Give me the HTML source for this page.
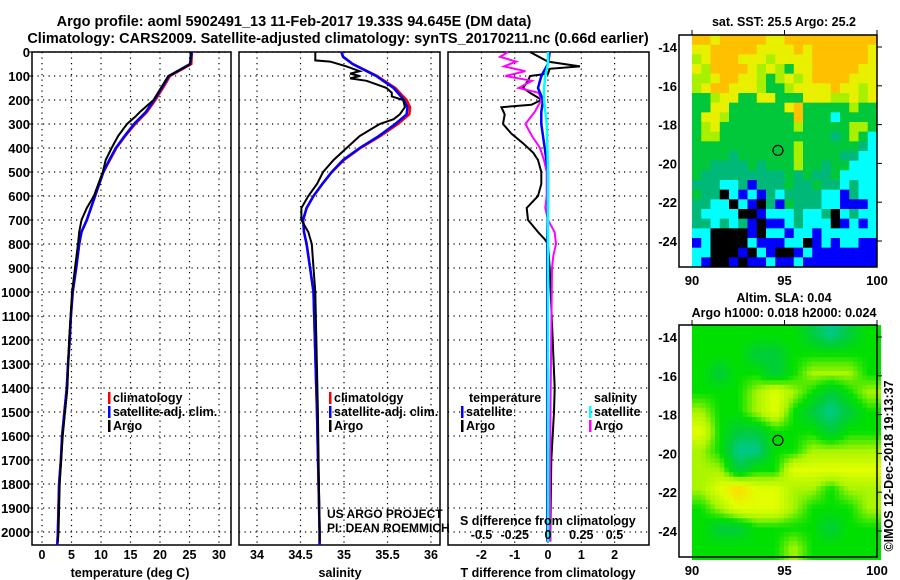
<!DOCTYPE html>
<html><head><meta charset="utf-8">
<style>
html,body{margin:0;padding:0;background:#fff;}
svg{display:block;}
text{font-family:"Liberation Sans",sans-serif;font-weight:bold;fill:#000;}
</style></head>
<body>
<svg id="chart" width="900" height="580" viewBox="0 0 900 580" xmlns="http://www.w3.org/2000/svg">
<text x="294" y="26" font-size="14.5" text-anchor="middle">Argo profile: aoml 5902491_13 11-Feb-2017 19.33S 94.645E (DM data)</text>
<text x="338" y="43" font-size="14.5" text-anchor="middle">Climatology: CARS2009. Satellite-adjusted climatology: synTS_20170211.nc (0.66d earlier)</text>
<g id="plots"></g>
</svg>
<script>
// ---------- data ----------
const tDepth   = [0,50,100,150,200,250,300,350,400,450,500,600,700,750,800,900,1000,1100,1200,1300,1400,1500,1600,1700,1800,1900,2000,2055];
const tClim    = [25.4,25.3,21.7,20.5,19.2,17.8,15.8,14.1,12.6,11.5,10.4,9.0,7.6,6.7,6.3,5.8,5.2,4.9,4.7,4.4,4.2,3.8,3.4,3.2,2.9,2.8,2.7,2.6];
const tSat     = [25.4,25.1,21.5,20.3,19.0,17.6,15.6,14.0,12.5,11.4,10.4,9.0,7.6,6.7,6.3,5.8,5.2,4.9,4.7,4.4,4.2,3.8,3.4,3.2,2.9,2.8,2.7,2.6];
const argoTDepth = [0,50,60,100,200,250,270,300,350,400,450,500,600,650,700,750,800,900,1000,1200,1400,1600,1800,2000,2040];
const argoT      = [25.2,25.1,24.5,21.4,18.9,16.6,15.8,14.4,12.9,11.8,10.8,10.3,8.8,7.6,6.7,6.3,6.1,5.6,5.1,4.6,4.3,3.5,3.0,2.8,2.7];

const sDepth = [0,20,50,100,150,200,230,260,300,350,400,450,500,550,600,650,700,750,800,900,1000,1500,2000,2055];
const sClim  = [34.97,34.99,35.10,35.38,35.59,35.72,35.76,35.75,35.62,35.42,35.19,35.00,34.86,34.75,34.65,34.57,34.53,34.54,34.57,34.61,34.65,34.69,34.72,34.72];
const sSat   = [34.97,34.99,35.10,35.37,35.57,35.69,35.73,35.72,35.59,35.40,35.18,34.99,34.86,34.75,34.65,34.57,34.53,34.54,34.57,34.61,34.65,34.69,34.72,34.72];
const argoSDepth = [0,35,40,60,80,90,100,110,120,150,170,185,200,230,260,280,300,350,400,450,500,550,600,650,700,750,800,900,1000,1500,2000,2040];
const argoS      = [34.67,34.67,34.84,35.03,35.18,35.07,35.18,35.07,35.26,35.49,35.55,35.55,35.68,35.70,35.64,35.57,35.41,35.18,35.03,34.88,34.76,34.69,34.59,34.51,34.51,34.59,34.63,34.65,34.67,34.70,34.72,34.72];

const dTDepth = [0,40,60,70,90,100,120,150,170,190,200,220,230,260,300,340,380,420,450,500,550,600,650,700,750,780,800,900,1400,1500,1700,2000,2040];
const dTArgo  = [-0.54,0,0.96,0.05,0,-0.54,-0.6,-0.75,-0.54,-0.3,-0.2,-0.5,-1.4,-1.3,-1.35,-1.1,-0.75,-0.44,-0.3,-0.2,-0.2,-0.3,-0.64,-0.6,-0.3,-0.1,0,0.05,0.2,0.18,0.1,0.07,0.07];
const dTSatDepth = [0,50,100,150,200,250,300,400,500,600,800,1200,2040];
const dTSat      = [0.05,0,-0.2,-0.3,-0.15,-0.2,-0.2,-0.1,0,0,-0.02,-0.02,-0.02];
const dSDepth = [0,20,40,60,80,100,120,150,170,200,220,250,300,350,400,450,500,600,650,700,750,800,850,900,1400,1800,2040];
const dSArgo  = [-0.30,-0.36,-0.24,-0.33,-0.17,-0.32,-0.12,-0.22,-0.07,-0.05,-0.07,-0.1,-0.17,-0.12,-0.06,-0.03,-0.01,-0.01,-0.02,0,0.05,0.06,0.04,0.03,0.02,0.015,0.015];
const dSSatDepth = [0,50,100,150,200,300,500,1000,2040];
const dSSat      = [0,0,-0.02,-0.03,-0.03,-0.01,0,0,0];

const depthTicks = [0,100,200,300,400,500,600,700,800,900,1000,1100,1200,1300,1400,1500,1600,1700,1800,1900,2000];
const tTicks = [0,5,10,15,20,25,30];
const sTicks = [34,34.5,35,35.5,36];
const sTickLabels = ["34","34.5","35","35.5","36"];
const dTTicks = [-2,-1,0,1,2];
const dSTicks = [-0.5,-0.25,0,0.25,0.5];
const dSTickLabels = ["-0.5","-0.25","0","0.25","0.5"];

const sstGrid = [
"OOYOOOOOYYOOOOOOOOOO","YYOOOOOYYYYOYOOOOOOY","LYOOOYYYLYYYYOOOOOOY","YLOOOOYLYLGYYOOOOOYY",
"LLYOOYYLGLYLYOOOOYYY","LYOOYYYLGGLYYYYOYYLY","GGLYYGGYYGGGYYYLLYLY","GGYYGGGGGGYOGGGGGLGG",
"GYYLGGGGGGGOGGGCGGGG","GLYGGGGGGGGLGGGGGLLG","GLLGGGGGGGGGGGGTGLGC","GGGGGGGGGGGLGGGGGGTC",
"GGGGTGGGGGGLGGGGTTCC","GGTTTTGTGGGLGGTGGCCC","GTTTTTTTTTGTGTTGCCCC","TTTCCTBTTTGTTGTTCTCC",
"GTTKCBCBTCTTTTCCBTCC","TTCCKCBKTBGTTTCCBBBC","TCCCCKKBCCCTCCTKCTCC","TTCTCTBKBBCTCCCKBCBC",
"CCKKKKBKCCBCCBCCCCCC","BCKKKKCBBBCCKBCBCCBB","CCKKKBKCBKKBCBBBBBBB","CBKKBKBBCBBCBBBBBBBB"];
const slaGrid = [
[2,2,2,2,2,2,1,0,1,2],[2,2,2,1,1,2,2,2,2,2],[2,1,2,2,1,2,3,3,3,2],[2,2,2,3,4,3,2,1,2,3],
[3,2,2,3,4,2,1,0,1,2],[4,2,1,1,2,2,2,1,2,2],[3,2,0,0,2,2,3,3,3,3],[3,3,1,2,2,4,4,4,4,4],
[3,4,5,4,4,3,3,2,3,3],[2,3,4,4,4,3,2,2,2,3],[2,1,1,2,2,2,2,1,2,2],[2,2,2,2,2,3,2,2,2,2]];
const latTicks = [-14,-16,-18,-20,-22,-24];
const lonTicks = [90,95,100];
const argoLon = 94.645, argoLat = -19.33;

// ---------- drawing ----------
const NS="http://www.w3.org/2000/svg";
const root=document.getElementById('plots');
function el(tag,attrs,parent,txt){const e=document.createElementNS(NS,tag);for(const k in attrs)e.setAttribute(k,attrs[k]);if(txt!==undefined)e.textContent=txt;(parent||root).appendChild(e);return e;}

const Y0=52, YB=545;
const yD = d => Y0 + d*0.24;
const xT = v => 42 + v*5.9;
const xS = v => 257 + (v-34)*87;
const xDT = v => 548 + v*33.3;
const xDS = v => 548 + v*133;

function panel(name,x0,x1,gridXs){
  const g=el('g',{});
  
  
  gridXs.forEach(x=>{const l=el('line',{x1:x,x2:x,y1:Y0,y2:YB,stroke:'#000','stroke-width':1.2,'stroke-dasharray':'1.2 4.3'},g);});
  depthTicks.forEach(d=>{const l=el('line',{x1:x0,x2:x1,y1:yD(d),y2:yD(d),stroke:'#000','stroke-width':1.2,'stroke-dasharray':'1.2 4.3'},g);});
  const r=el('rect',{x:x0,y:Y0,width:x1-x0,height:YB-Y0,fill:'none',stroke:'#000','stroke-width':1.5},g);
  
  return g;
}
function line(g,name,ds,vs,fx,color,w){
  const pts=ds.map((d,i)=>fx(vs[i]).toFixed(1)+','+yD(d).toFixed(1)).join(' ');
  const p=el('polyline',{points:pts,fill:'none',stroke:color,'stroke-width':w||2.5,'stroke-linejoin':'miter'},g);
  
  return p;
}
function txt(g,name,x,y,s,size,anchor,extra){
  const t=el('text',Object.assign({x:x,y:y,'font-size':size||12.5,'text-anchor':anchor||'start'},extra||{}),g,s);
  return t;
}

const p1=panel('temperature-panel',32,231,tTicks.map(xT));
depthTicks.forEach(d=>{txt(p1,'depth-tick-label',30,yD(d)+5,String(d),13,'end');el('line',{x1:28,x2:32,y1:yD(d),y2:yD(d),stroke:'#000'},p1);});
tTicks.forEach((v,i)=>txt(p1,'temp-tick-label',xT(v),559,String(v),12.5,'middle'));
txt(p1,'x-axis-title-temperature',130,577,'temperature (deg C)',12.5,'middle');
line(p1,'temp-climatology-line',tDepth,tClim,xT,'#ff0000');
line(p1,'temp-satellite-line',tDepth,tSat,xT,'#0000ff');
line(p1,'temp-argo-line',argoTDepth,argoT,xT,'#000000',2);

const p2=panel('salinity-panel',239,440,sTicks.map(xS));
sTicks.forEach((v,i)=>txt(p2,'salinity-tick-label',xS(v),559,sTickLabels[i],12.5,'middle'));
txt(p2,'x-axis-title-salinity',340,577,'salinity',12.5,'middle');
line(p2,'sal-climatology-line',sDepth,sClim,xS,'#ff0000');
line(p2,'sal-satellite-line',sDepth,sSat,xS,'#0000ff');
line(p2,'sal-argo-line',argoSDepth,argoS,xS,'#000000',2);

const p3=panel('difference-panel',448,649,dTTicks.map(xDT));
dTTicks.forEach(v=>txt(p3,'tdiff-tick-label',xDT(v),559,String(v),12.5,'middle'));
txt(p3,'x-axis-title-tdiff',548,577,'T difference from climatology',12.5,'middle');
line(p3,'tdiff-argo-line',dTDepth,dTArgo,xDT,'#000000',2);
line(p3,'sdiff-argo-line',dSDepth,dSArgo,xDS,'#ff00ff',2);
line(p3,'tdiff-satellite-line',dTSatDepth,dTSat,xDT,'#0000ff',2.5);
line(p3,'sdiff-satellite-line',dSSatDepth,dSSat,xDS,'#00ffff',2.5);
txt(p3,'sdiff-axis-title',460,525,'S difference from climatology',12.5,'start');
dSTicks.forEach((v,i)=>txt(p3,'sdiff-tick-label',xDS(v),539,dSTickLabels[i],12.5,'middle'));

function legend(g,x,y,color,label){
  const r=el('rect',{x:x,y:y-10,width:2.5,height:12,fill:color},g);
  
  txt(g,'legend-entry-'+label.replace(/[^a-z]+/gi,'-').toLowerCase(),x+5,y,label,12.5);
}
legend(p1,108,402,'#ff0000','climatology');
legend(p1,108,416,'#0000ff','satellite-adj. clim.');
legend(p1,108,430,'#000','Argo');
legend(p2,329,402,'#ff0000','climatology');
legend(p2,329,416,'#0000ff','satellite-adj. clim.');
legend(p2,329,430,'#000','Argo');
txt(p3,'legend-header-temperature',469,402,'temperature',12.5);
legend(p3,461,416,'#0000ff','satellite');
legend(p3,461,430,'#000','Argo');
txt(p3,'legend-header-salinity',594,402,'salinity',12.5);
legend(p3,589,416,'#00ffff','satellite');
legend(p3,589,430,'#ff00ff','Argo');
txt(p2,'credit-us-argo',327,518,'US ARGO PROJECT',12,'start',{'font-weight':'normal'});
txt(p2,'credit-pi',327,532,'PI: DEAN ROEMMICH',12,'start',{'font-weight':'normal'});

// ---------- maps ----------
const MX0=692, MX1=877, FX0=679;
const lonX = v => MX0 + (v-90)*(MX1-MX0)/10;
function mapFrame(name){
  const g=el('g',{});
  
  return g;
}
const latY1 = v => 47 + (-14 - v)*19.4;
function drawMapAxes(g,top,bottom,latY){
  const r=el('rect',{x:FX0,y:top,width:MX1-FX0,height:bottom-top,fill:'none',stroke:'#000','stroke-width':1.5},g);
  
  latTicks.forEach(v=>{txt(g,'lat-tick-label',677,latY(v)+5,String(v),13,'end');el('line',{x1:MX1,x2:MX1+5,y1:latY(v),y2:latY(v),stroke:'#000'},g);});
  lonTicks.forEach(v=>{txt(g,'lon-tick-label',lonX(v),bottom+18,String(v),13,'middle');el('line',{x1:lonX(v),x2:lonX(v),y1:top-5,y2:top,stroke:'#000'},g);});
  const c=el('circle',{cx:lonX(argoLon),cy:latY(argoLat),r:5,fill:'none',stroke:'#000','stroke-width':1.2},g);
  
}
const sstCol={O:'#ffc000',Y:'#e8f000',L:'#a8f000',G:'#00c83a',T:'#00b878',C:'#00ffff',B:'#0000ff',K:'#000000'};
const m1=mapFrame('sst-map');
txt(m1,'sst-map-title',784,26,'sat. SST: 25.5 Argo: 25.2',12.5,'middle');
{
  const rows=sstGrid.length, cols=sstGrid[0].length, ch=(267-35)/rows, cw=(MX1-MX0)/cols;
  sstGrid.forEach((row,i)=>{for(let j=0;j<cols;j++){
    const c=el('rect',{x:(MX0+j*cw).toFixed(2),y:(35+i*ch).toFixed(2),width:(cw+0.4).toFixed(2),height:(ch+0.4).toFixed(2),fill:sstCol[row[j]]},m1);
    
  }});
}
drawMapAxes(m1,35,267,latY1);
const slaCols=[[0,200,140],[0,205,60],[0,224,0],[170,245,0],[225,255,0],[255,216,0]];
function slaColor(v){const a=Math.max(0,Math.min(4.999,v));const i=Math.floor(a),f=a-i;const c0=slaCols[i],c1=slaCols[i+1];return 'rgb('+c0.map((c,k)=>Math.round(c+(c1[k]-c)*f)).join(',')+')';}
const m2=mapFrame('sla-map');
txt(m2,'sla-map-title',784,302,'Altim. SLA: 0.04',12.5,'middle');
txt(m2,'sla-map-subtitle',784,317,'Argo h1000: 0.018 h2000: 0.024',12.5,'middle');
{
  const R=slaGrid.length,C=slaGrid[0].length, step=4.6;
  const W=MX1-MX0,H=557-325;
  for(let y=0;y<H;y+=step){for(let x=0;x<W;x+=step){
    const gy=Math.min(R-1.001,Math.max(0,(y+step/2)/H*R-0.5)), gx=Math.min(C-1.001,Math.max(0,(x+step/2)/W*C-0.5));
    const i=Math.floor(gy),j=Math.floor(gx),fy=gy-i,fx=gx-j;
    const v=slaGrid[i][j]*(1-fx)*(1-fy)+slaGrid[i][j+1]*fx*(1-fy)+slaGrid[i+1][j]*(1-fx)*fy+slaGrid[i+1][j+1]*fx*fy;
    const c=el('rect',{x:(MX0+x).toFixed(1),y:(325+y).toFixed(1),width:step+0.4,height:step+0.4,fill:slaColor(v)},m2);
    
  }}
}
drawMapAxes(m2,325,557,v=>337+(-14-v)*19.4);
txt(m2,'imos-timestamp',0,0,'©IMOS 12-Dec-2018 19:13:37',12.5,'middle',{'font-weight':'normal',transform:'translate(893,466) rotate(-90)'});
</script>
</body></html>
